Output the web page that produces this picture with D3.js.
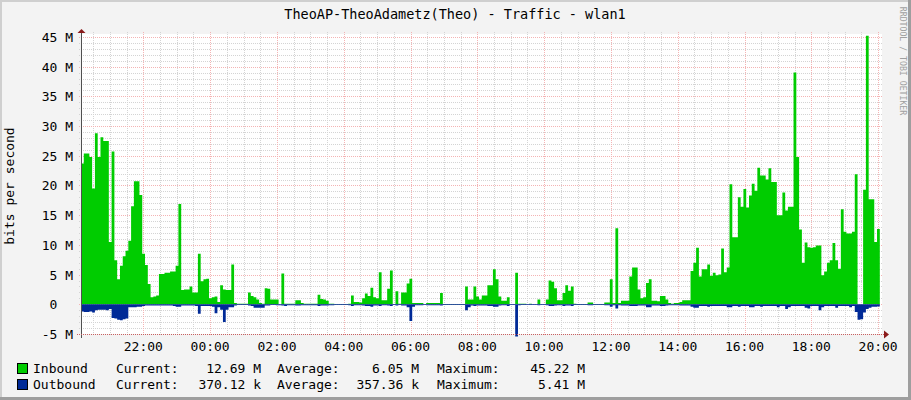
<!DOCTYPE html>
<html><head><meta charset="utf-8">
<script src="https://cdn.jsdelivr.net/npm/d3@7"></script>
<style>
html,body{margin:0;padding:0;background:#F3F3F3;}
svg{display:block;}
text{font-family:"DejaVu Sans Mono",monospace;white-space:pre;}
</style></head><body>
<svg id="c" width="911" height="400"></svg>
<script>
// ---------- data ----------
const title = "TheoAP-TheoAdametz(Theo) - Traffic - wlan1";
const yAxisLabel = "bits per second";
const watermark = "RRDTOOL / TOBI OETIKER";
const startTime = new Date(2024, 0, 1, 20, 8);
const stepMinutes = 5;
// Mbit/s, 5-minute samples
const inbound = [
23.7,25.4,25.4,24.8,19.5,28.8,24.8,28.1,27.5,27.5,
10.5,25.7,7.4,4.2,6.5,8.1,9.0,10.7,16.5,20.7,
20.7,18.4,8.5,6.6,3.4,1.2,1.3,1.5,5.1,5.1,
5.3,5.3,5.5,5.5,6.5,16.9,2.4,2.5,2.5,3.0,
2.0,2.0,8.5,3.9,4.2,4.3,1.0,1.2,1.3,0.4,
3.2,2.5,2.4,2.4,6.7,0.2,0.1,0.1,0.1,0.1,
2.0,1.4,1.2,0.8,0.2,0.1,2.7,2.6,0.8,0.8,
0.8,0.0,5.2,0.1,0.1,0.1,0.1,0.7,0.7,0.2,
0.1,0.1,0.1,0.1,0.1,1.6,0.9,0.8,0.6,0.1,
0.1,0.05,0.05,0.05,0.05,0.05,0.1,1.5,0.4,0.4,
0.3,1.0,1.8,1.4,2.8,1.2,1.0,5.4,0.7,0.7,
2.6,5.7,0.0,2.2,0.1,2.0,2.0,3.5,4.3,0.2,
0.2,0.2,0.2,0.0,0.2,0.2,0.2,0.2,0.2,1.9,
0.05,0.05,0.05,0.05,0.05,0.05,0.05,0.05,3.0,0.8,
0.8,3.0,1.3,0.8,1.5,1.5,3.2,3.2,5.9,4.2,
1.3,0.6,0.6,1.2,0.0,0.0,5.3,0.1,0.1,0.1,
0.0,0.1,0.0,0.0,0.8,0.0,0.0,0.8,4.0,3.8,
2.7,0.7,0.7,1.9,3.2,2.3,3.0,0.1,0.05,0.05,
0.05,0.05,0.3,0.3,0.05,0.05,0.05,0.05,0.3,0.3,
4.2,0.2,12.8,0.2,0.6,0.6,0.6,4.7,6.2,6.2,
2.5,1.0,1.2,3.6,4.2,0.6,0.6,0.5,1.4,1.4,
0.8,0.2,0.1,0.2,0.2,0.4,0.7,0.7,0.7,5.6,
7.0,9.5,4.7,5.9,5.9,6.7,4.8,5.3,4.9,5.0,
9.4,5.4,6.2,20.2,11.3,11.3,18.0,16.4,19.4,16.3,
18.3,20.3,19.1,23.0,21.7,21.7,21.0,22.9,20.6,20.6,
15.0,15.0,18.8,15.8,16.4,16.4,39.0,24.8,12.6,7.0,
10.4,9.6,9.5,9.6,9.9,9.9,4.9,5.5,7.0,7.4,
10.3,7.4,6.0,16.0,12.2,11.9,11.9,12.2,21.9,0.0,
0.0,19.3,45.22,17.7,17.7,10.5,12.69
];
const outbound = [
1.2,1.3,1.3,1.2,1.4,1.0,0.9,0.9,0.9,1.0,
0.8,2.3,2.4,2.6,2.7,2.5,2.4,0.5,0.5,0.5,
0.4,0.4,0.3,0.2,0.2,0.2,0.2,0.2,0.2,0.2,
0.2,0.2,0.2,0.3,0.4,0.4,0.2,0.2,0.2,0.2,
0.2,0.3,1.6,0.3,0.3,0.3,0.3,0.4,1.5,0.5,
0.9,3.0,0.9,0.5,0.5,0.2,0.1,0.1,0.1,0.1,
0.2,0.3,0.6,0.6,0.6,0.6,0.2,0.2,0.1,0.1,
0.15,0.15,0.2,0.3,0.15,0.15,0.15,0.2,0.2,0.15,
0.15,0.15,0.15,0.15,0.15,0.3,0.2,0.2,0.2,0.15,
0.15,0.1,0.1,0.1,0.1,0.1,0.15,0.3,0.15,0.15,
0.15,0.2,0.3,0.3,0.4,0.2,0.2,0.3,0.15,0.15,
0.2,0.3,0.1,0.2,0.1,0.2,0.2,0.5,2.8,0.4,
0.15,0.15,0.15,0.1,0.15,0.15,0.15,0.15,0.15,0.2,
0.1,0.1,0.1,0.1,0.1,0.1,0.1,0.1,1.0,0.5,
0.2,0.3,0.2,0.2,0.2,0.2,0.3,0.3,0.4,0.4,
0.2,0.15,0.15,0.3,0.1,0.1,5.41,0.15,0.1,0.1,
0.1,0.1,0.1,0.1,0.15,0.1,0.1,0.15,0.3,0.3,
0.2,0.15,0.15,0.3,0.2,0.2,0.3,0.1,0.1,0.1,
0.1,0.1,0.15,0.15,0.1,0.1,0.1,0.1,0.15,0.15,
0.4,0.15,0.7,0.15,0.2,0.2,0.2,0.3,0.3,0.3,
0.2,0.2,0.2,0.5,0.5,0.2,0.2,0.2,0.3,0.3,
0.2,0.15,0.15,0.15,0.15,0.2,0.2,0.2,0.2,0.4,
0.6,0.6,0.3,0.3,0.3,0.4,0.3,0.3,0.3,0.3,
0.3,0.3,0.5,0.5,0.3,0.3,0.4,0.3,0.3,0.3,
0.5,0.5,0.3,0.3,0.4,0.3,0.3,0.3,0.3,0.3,
0.5,0.3,0.3,0.8,0.5,0.3,0.3,0.3,0.3,0.3,
0.6,0.7,0.3,0.3,0.3,1.0,0.5,0.3,0.3,0.3,
0.3,0.6,0.3,0.3,0.3,0.3,0.5,0.3,1.3,2.6,
2.5,1.4,0.8,0.6,0.4,0.4,0.37
];
const yTickValues = [-5,0,5,10,15,20,25,30,35,40,45];
const yTickLabels = ["-5 M","0","5 M","10 M","15 M","20 M","25 M","30 M","35 M","40 M","45 M"];
const xTickLabels = ["22:00","00:00","02:00","04:00","06:00","08:00","10:00","12:00","14:00","16:00","18:00","20:00"];
const seriesNames = ["Inbound","Outbound"];
const seriesColors = ["#00CC00","#002A97"];
const currentVals = ["12.69 M","370.12 k"];
const averageVals = ["6.05 M","357.36 k"];
const maximumVals = ["45.22 M","5.41 M"];

// ---------- layout ----------
const W = 911, H = 400, L = 81, R = 881, T = 34, B = 334;
const pxPerHour = 33.4;
const endTime = new Date(+startTime + (R - L) / pxPerHour * 3600e3);
const svg = d3.select("#c");

const x = d3.scaleTime().domain([startTime, endTime]).range([L, R]);
const y = d3.scaleLinear().domain([-5, 45.5]).range([B, T]);

// frame
svg.append("rect").attr("width", W).attr("height", H).attr("fill", "#F3F3F3");
svg.append("rect").attr("x", 0).attr("y", 0).attr("width", W).attr("height", 2).attr("fill", "#CFCFCF");
svg.append("rect").attr("x", 0).attr("y", 0).attr("width", 2).attr("height", H).attr("fill", "#CFCFCF");
svg.append("rect").attr("x", W - 3).attr("y", 0).attr("width", 3).attr("height", H).attr("fill", "#9E9E9E");
svg.append("rect").attr("x", 0).attr("y", H - 3).attr("width", W).attr("height", 3).attr("fill", "#9E9E9E");

// plot background
svg.append("rect").attr("x", L).attr("y", T).attr("width", R - L + 1).attr("height", B - T).attr("fill", "#FFFFFF");

// grid
const g = svg.append("g").attr("shape-rendering", "crispEdges");
const minorT = x.ticks(d3.timeMinute.every(30));
const majorT = x.ticks(d3.timeHour.every(2));
const minorCol = "#D4D4D4", majorCol = "#F4B4B4";
g.selectAll(".vmin").data(minorT).join("line")
  .attr("x1", d => Math.round(x(d)) + 0.5).attr("x2", d => Math.round(x(d)) + 0.5)
  .attr("y1", T - 2).attr("y2", B + 2).attr("stroke", minorCol).attr("stroke-dasharray", "1,1");
const minorY = d3.range(-5, 46, 1);
g.selectAll(".hmin").data(minorY).join("line")
  .attr("y1", d => Math.round(y(d)) + 0.5).attr("y2", d => Math.round(y(d)) + 0.5)
  .attr("x1", L - 2).attr("x2", R + 2).attr("stroke", minorCol).attr("stroke-dasharray", "1,1");
g.selectAll(".vmaj").data(majorT).join("line")
  .attr("x1", d => Math.round(x(d)) + 0.5).attr("x2", d => Math.round(x(d)) + 0.5)
  .attr("y1", T - 2).attr("y2", B + 2).attr("stroke", majorCol).attr("stroke-dasharray", "1,1");
g.selectAll(".hmaj").data(yTickValues.slice(1)).join("line")
  .attr("y1", d => Math.round(y(d)) + 0.5).attr("y2", d => Math.round(y(d)) + 0.5)
  .attr("x1", L - 2).attr("x2", R + 2).attr("stroke", majorCol).attr("stroke-dasharray", "1,1");

// series
function pts(arr, sign) {
  const p = arr.map((v, i) => ({ t: new Date(+startTime + i * stepMinutes * 60e3), v: sign * v }));
  p.push({ t: new Date(+startTime + arr.length * stepMinutes * 60e3), v: sign * arr[arr.length - 1] });
  return p;
}
const area = d3.area().x(d => x(d.t)).y0(y(0)).y1(d => y(d.v)).curve(d3.curveStepAfter);
svg.append("path").datum(pts(inbound, 1)).attr("d", area).attr("fill", seriesColors[0]);
svg.append("path").datum(pts(outbound, -1)).attr("d", area).attr("fill", seriesColors[1]);

// axes
const axisCol = "#505050", arrowCol = "#8B1A1A";
svg.append("line").attr("x1", L + 0.5).attr("x2", L + 0.5).attr("y1", T - 3).attr("y2", B + 4)
  .attr("stroke", axisCol).attr("shape-rendering", "crispEdges");
svg.append("line").attr("x1", L - 4).attr("x2", R + 4).attr("y1", B + 0.5).attr("y2", B + 0.5)
  .attr("stroke", "#C86060").attr("stroke-dasharray", "1,1").attr("shape-rendering", "crispEdges");
svg.append("path").attr("d", `M${L - 3.5},${T - 1}L${L + 0.5},${T - 5}L${L + 4.5},${T - 1}Z`).attr("fill", arrowCol);
svg.append("path").attr("d", `M${R + 3},${B - 3.5}L${R + 8},${B + 0.5}L${R + 3},${B + 4.5}Z`).attr("fill", arrowCol);

// y tick labels
const fs = 13;
svg.selectAll(".yl").data(yTickValues).join("text")
  .attr("x", 73).attr("y", d => y(d) + 5)
  .attr("text-anchor", "end").attr("font-size", fs).attr("fill", "#000")
  .text((d, i) => yTickLabels[i].includes("M") ? yTickLabels[i] : yTickLabels[i] + "  ");

// x tick labels
svg.selectAll(".xl").data(majorT).join("text")
  .attr("x", d => x(d)).attr("y", 351)
  .attr("text-anchor", "middle").attr("font-size", fs).attr("fill", "#000")
  .text((d, i) => xTickLabels[i]);

// title
svg.append("text").attr("x", 455).attr("y", 19).attr("text-anchor", "middle")
  .attr("font-size", 13.5).attr("fill", "#000").text(title);

// y axis label
svg.append("text").attr("transform", "translate(14,186) rotate(-90)")
  .attr("text-anchor", "middle").attr("font-size", fs).attr("fill", "#000").text(yAxisLabel);

// watermark
svg.append("text").attr("transform", "translate(900,61) rotate(90)")
  .attr("text-anchor", "middle").attr("font-size", 8.2).attr("fill", "#A0A0A0").text(watermark);

// legend
const rows = [373, 389];
seriesNames.forEach((name, i) => {
  const by = rows[i];
  svg.append("rect").attr("x", 17.5).attr("y", by - 9.5).attr("width", 10).attr("height", 10)
    .attr("fill", seriesColors[i]).attr("stroke", "#000").attr("stroke-width", 1);
  const t = (xx, s, anchor) => svg.append("text").attr("x", xx).attr("y", by).attr("font-size", fs)
    .attr("text-anchor", anchor || "start").attr("fill", "#000").text(s);
  t(33, name);
  t(116, "Current:");
  t(261, currentVals[i], "end");
  t(277, "Average:");
  t(419, averageVals[i], "end");
  t(437, "Maximum:");
  t(585, maximumVals[i], "end");
});
</script>
</body></html>
